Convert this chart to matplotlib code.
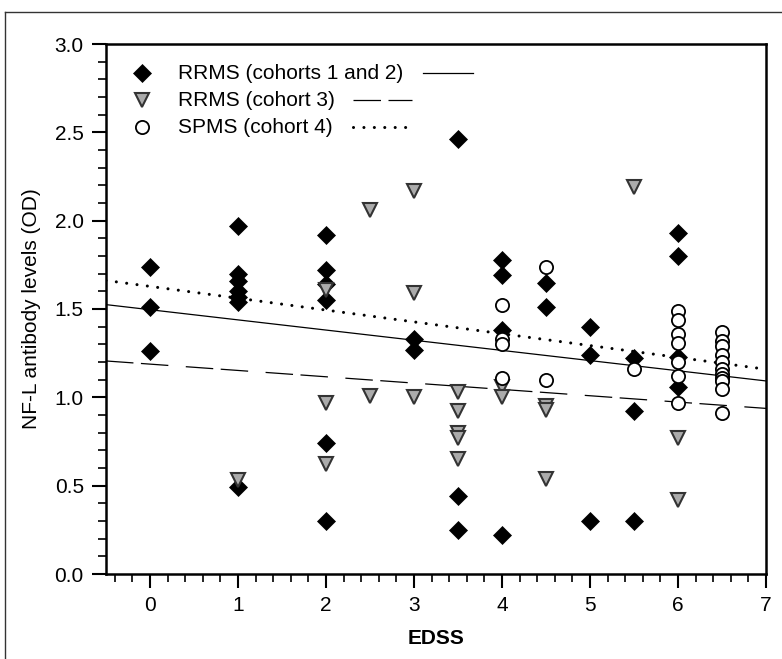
import matplotlib.pyplot as plt
from matplotlib.lines import Line2D
from matplotlib.ticker import MultipleLocator
import numpy as np

plt.rcParams['font.family'] = ['Liberation Sans', 'DejaVu Sans']

# RRMS cohorts 1 and 2 (diamonds)
edss_rr12 = [0, 0, 0, 1, 1, 1, 1, 1, 1, 1, 2, 2, 2, 2, 2, 2, 3, 3, 3.5, 3.5, 3.5,
             4, 4, 4, 4, 4.5, 4.5, 5, 5, 5, 5.5, 5.5, 5.5, 6, 6, 6, 6]
nfl_rr12 = [1.74, 1.51, 1.26, 1.97, 1.70, 1.66, 1.60, 1.57, 1.54, 0.49,
            1.92, 1.72, 1.64, 1.55, 0.74, 0.30, 1.33, 1.27, 2.46, 0.44, 0.25,
            1.78, 1.69, 1.38, 0.22, 1.65, 1.51, 1.40, 1.24, 0.30,
            1.22, 0.92, 0.30, 1.93, 1.80, 1.23, 1.06]

# RRMS cohort 3 (triangles)
edss_rr3 = [1, 2, 2, 2, 2.5, 2.5, 3, 3, 3, 3.5, 3.5, 3.5, 3.5, 3.5,
            4, 4, 4.5, 4.5, 4.5, 5.5, 6, 6]
nfl_rr3 = [0.53, 1.61, 0.97, 0.62, 2.06, 1.01, 2.17, 1.59, 1.00,
           1.03, 0.92, 0.80, 0.77, 0.65, 1.06, 1.00, 0.95, 0.93, 0.54,
           2.19, 0.77, 0.42]

# SPMS cohort 4 (circles)
edss_sp4 = [4, 4, 4, 4, 4.5, 4.5, 5.5, 6, 6, 6, 6, 6, 6, 6,
            6.5, 6.5, 6.5, 6.5, 6.5, 6.5, 6.5, 6.5, 6.5, 6.5, 6.5]
nfl_sp4 = [1.52, 1.33, 1.30, 1.11, 1.74, 1.10, 1.16,
           1.49, 1.44, 1.36, 1.31, 1.20, 1.12, 0.97,
           1.37, 1.32, 1.29, 1.24, 1.20, 1.16, 1.13, 1.11, 1.09, 1.05, 0.91]

# regression lines (intercept, slope)
fit_rr12 = [1.496, -0.0576]
fit_rr3 = [1.188, -0.0358]
fit_sp4 = [1.628, -0.067]

labels = ['RRMS (cohorts 1 and 2)', 'RRMS (cohort 3)', 'SPMS (cohort 4)']

W, H = 782, 659
fig = plt.figure(figsize=(W / 100, H / 100), dpi=100)
ax = fig.add_axes([106 / W, 85 / H, 660 / W, 530 / H])

# figure frame (left and top edges visible)
fig.add_artist(Line2D([5 / W, 5 / W], [-0.01, (H - 12) / H], color='#333333', lw=1.0))
fig.add_artist(Line2D([5 / W, 1.01], [(H - 12) / H, (H - 12) / H], color='#333333', lw=1.0))

xs = np.array([-0.5, 7.0])
solid_style = dict(color='black', lw=0.9, ls='-')
dash_style = dict(color='black', lw=0.9, dashes=(22, 6, 22, 14))
dot_style = dict(color='black', lw=2.2, dashes=(0.01, 3.4), dash_capstyle='round')

ax.plot(xs, fit_rr12[0] + fit_rr12[1] * xs, zorder=2, **solid_style)
ax.plot(xs, fit_rr3[0] + fit_rr3[1] * xs, zorder=2, **dash_style)
ax.plot(xs, fit_sp4[0] + fit_sp4[1] * xs, zorder=2, **dot_style)

diamond = dict(marker='D', ms=9, mfc='black', mec='black', mew=0.5, ls='none')
tri = dict(marker='v', ms=10.5, mfc='#ababab', mec='#333333', mew=1.5, ls='none')
circ = dict(marker='o', ms=9.5, mfc='white', mec='black', mew=1.3, ls='none')

ax.plot(edss_rr12, nfl_rr12, zorder=3, **diamond)
ax.plot(edss_rr3, nfl_rr3, zorder=4, **tri)
ax.plot(edss_sp4, nfl_sp4, zorder=5, **circ)

# legend: marker, label, line sample
leg_y = [0.945, 0.894, 0.843]
styles = [diamond, tri, circ]
line_styles = [solid_style, dash_style, dot_style]
line_x = [(0.48, 0.556), (0.374, 0.464), (0.374, 0.458)]
for i in range(3):
    ax.plot([0.0545], [leg_y[i]], transform=ax.transAxes, clip_on=False, **styles[i])
    ax.text(0.109, leg_y[i], labels[i], transform=ax.transAxes, fontsize=15,
            va='center', ha='left')
    ax.plot(line_x[i], [leg_y[i], leg_y[i]], transform=ax.transAxes, **line_styles[i])

ax.set_xlim(-0.5, 7)
ax.set_ylim(0, 3.0)
ax.set_xticks(range(0, 8))
ax.set_yticks(np.arange(0, 3.01, 0.5))
ax.set_yticklabels(['%.1f' % v for v in np.arange(0, 3.01, 0.5)])
ax.xaxis.set_minor_locator(MultipleLocator(0.2))
ax.yaxis.set_minor_locator(MultipleLocator(0.1))
ax.tick_params(which='major', direction='out', length=10, width=1.5, labelsize=15, pad=6)
ax.tick_params(which='minor', direction='out', length=6, width=1.2)
for s in ax.spines.values():
    s.set_linewidth(1.8)

ax.set_xlabel('EDSS', fontsize=15, fontweight='bold', labelpad=10)
ax.set_ylabel('NF-L antibody levels (OD)', fontsize=15, labelpad=10)

fig.savefig('out.png', dpi=100)
